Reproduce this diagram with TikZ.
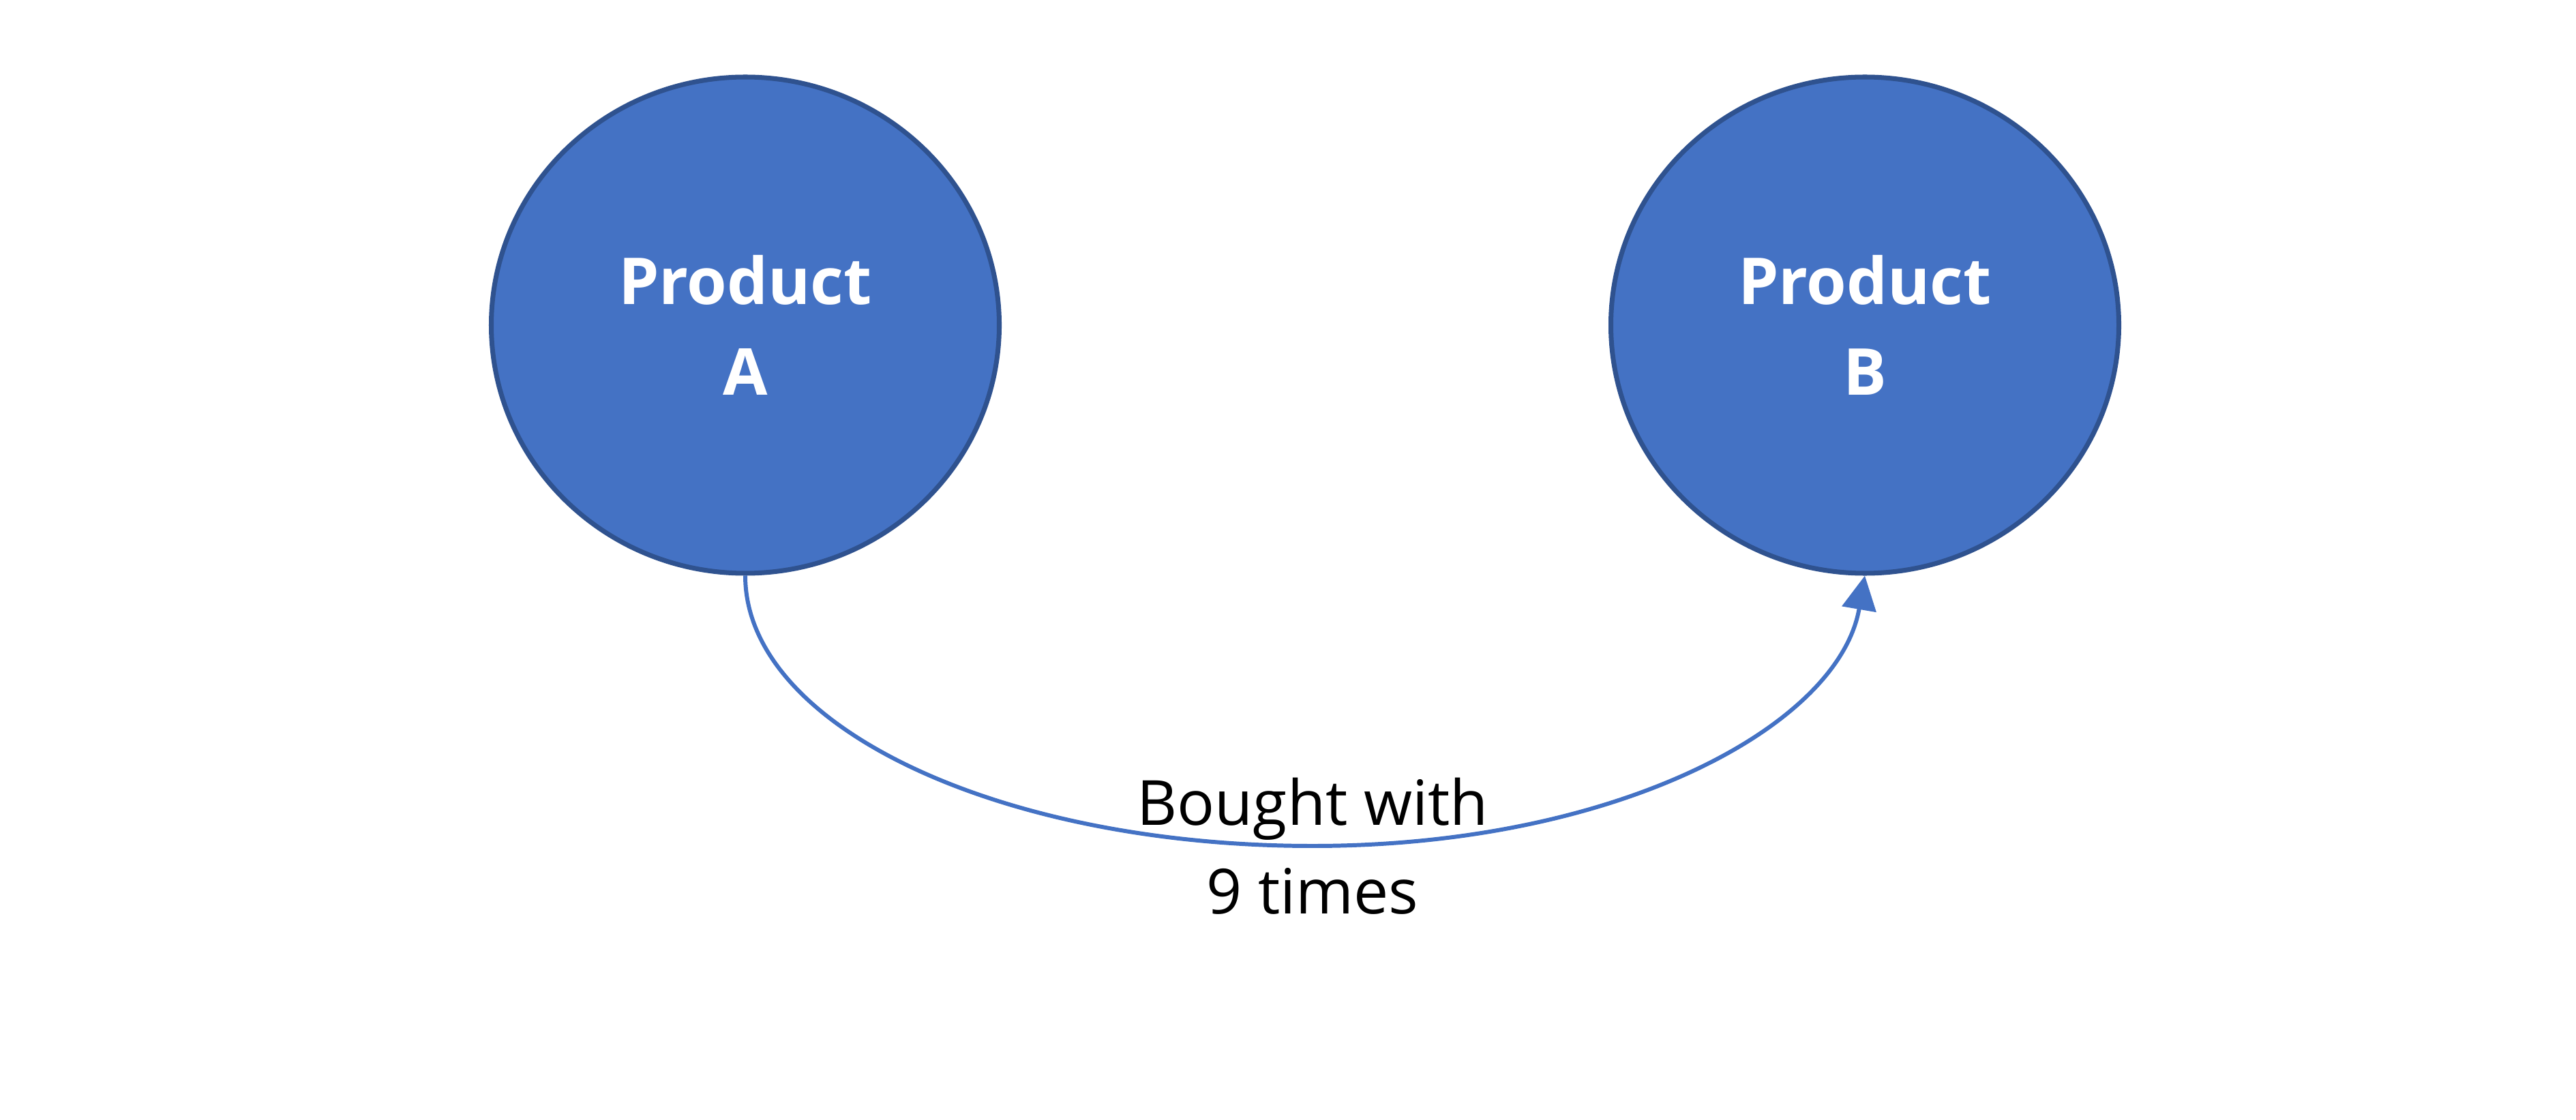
\documentclass[tikz,border=0pt]{standalone}
\usepackage{fontspec}
\setmainfont{Open Sans}
\usetikzlibrary{arrows.meta,shapes.geometric}
\definecolor{prodblue}{HTML}{4472C4}
\definecolor{darkblue}{HTML}{2F528F}

\begin{document}
\begin{tikzpicture}[product/.style={ellipse,draw=darkblue,line width=2pt,fill=prodblue,
    minimum width=7.45cm,minimum height=7.28cm,inner sep=0pt,align=center,text=white,
    font=\fontsize{27}{38}\selectfont\bfseries},
  link/.style={-{Triangle[length=5mm,width=5mm]},line width=1.7pt,prodblue},
  linklabel/.style={text=black,align=center,font=\fontsize{26}{37}\selectfont}]
\useasboundingbox (0,0) rectangle (37.78,-16.43);
% \draw[help lines] (0,0) grid (37,-16);
\node (a) [product] at (10.93,-4.77) {Product\\A};
\node (b) [product] at (27.35,-4.77) {Product\\B};
\coordinate (low) at (19.25,-12.41);
%
\draw[link] (a.south) .. controls +(0,-2.21) and +(-4.59,0) .. (low) node[linklabel] {Bought with\\9 times}
  .. controls +(4.47,0) and +(-0.38,-2.2) .. (b.south);
\end{tikzpicture}
\end{document}
